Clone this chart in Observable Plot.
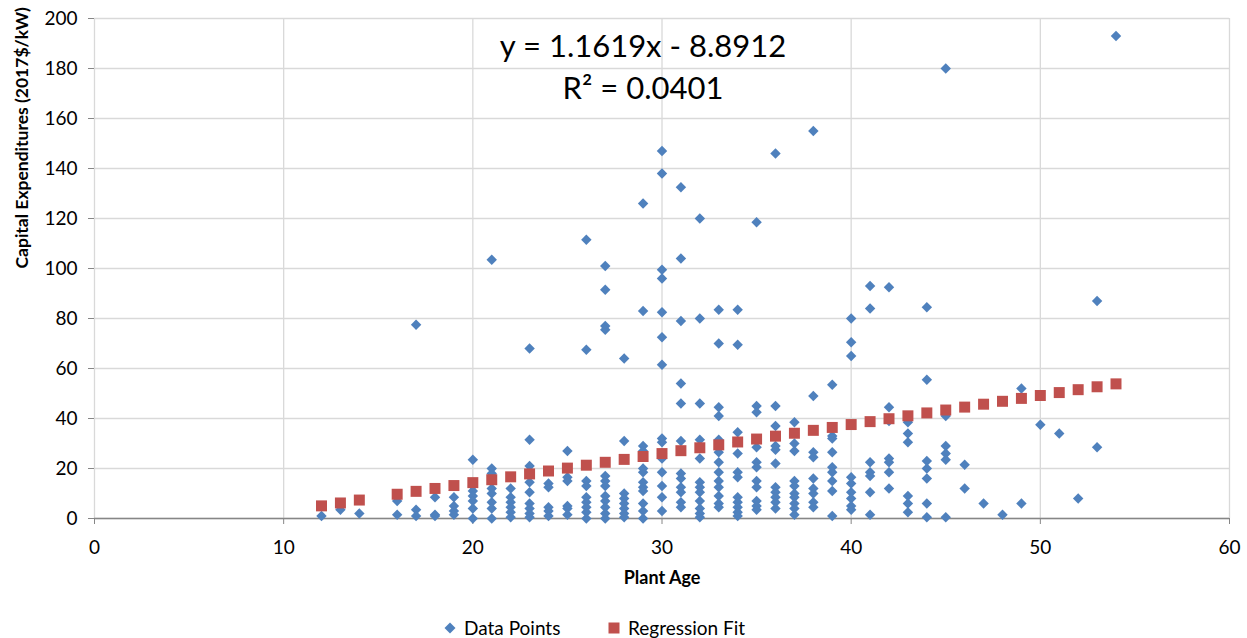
<!DOCTYPE html>
<html>
<head>
<meta charset="utf-8">
<script src="https://cdn.jsdelivr.net/npm/d3@7"></script>
<script src="https://cdn.jsdelivr.net/npm/@observablehq/plot@0.6"></script>
<style>
  html, body { margin: 0; padding: 0; background: #fff; }
  body { width: 1247px; height: 638px; overflow: hidden; font-family: Lato, "Liberation Sans", sans-serif; }
  #legend { position: relative; height: 38px; font-size: 19px; color: #000; }
  .item { position: absolute; top: 16px; display: flex; align-items: center; white-space: nowrap; }
  .sw { display: inline-block; margin-right: 8px; }
</style>
</head>
<body>
<div id="chart"></div>
<div id="legend">
  <div class="item" style="left:444px"><svg class="sw" width="12" height="12"><path d="M6,0.5L11.5,6L6,11.5L0.5,6Z" fill="#4F81BD"/></svg>Data Points</div>
  <div class="item" style="left:608px"><svg class="sw" width="12" height="12"><rect x="0.5" y="0.5" width="11" height="11" fill="#C0504D"/></svg>Regression Fit</div>
</div>
<script>
// Plant ages that have data points
const ages = [12,13,14,16,17,18,19,20,21,22,23,24,25,26,27,28,29,30,31,32,33,34,35,36,37,38,39,40,41,42,43,44,45,46,47,48,49,50,51,52,53,54];
// Capital expenditures (2017$/kW) observed at each age (same order as ages)
const capexByAge = [
  [1],
  [3.5],
  [2],
  [1.5, 7],
  [77.5, 3.5, 1],
  [8.5, 1.5, 1],
  [8.5, 5, 3, 1.5],
  [23.5, 13, 11, 9, 7, 4, 0],
  [103.5, 20, 18, 12, 10, 6.5, 4, 0],
  [12, 8.5, 6.5, 4.5, 2.5, 0.5],
  [68, 31.5, 21, 19, 14.5, 10.5, 6, 4, 2, 0.5],
  [14, 12.5, 4.5, 3, 1],
  [27, 16.5, 15, 5, 4, 1.5],
  [111.5, 67.5, 15, 13, 8.5, 6.5, 4.5, 2.5, 0],
  [101, 91.5, 77, 75.5, 17, 15, 13, 9, 7, 4.5, 2, 0],
  [64, 31, 10, 8, 6, 4, 2, 0.5],
  [126, 83, 29, 27, 20, 18.5, 14.5, 12.5, 11, 6, 3, 0],
  [147, 138, 99.5, 96, 82.5, 72.5, 61.5, 32, 30.5, 26, 24, 18.5, 13, 8.5, 3],
  [132.5, 104, 79, 54, 46, 31, 18, 16, 12.5, 10.5, 6.5, 4.5],
  [120, 80, 46, 31.5, 24, 14.5, 12.5, 10.5, 7, 4, 2, 0.5],
  [83.5, 70, 44.5, 41, 31.5, 26.5, 22.5, 18.5, 15, 12.5, 9, 6, 4.5],
  [83.5, 69.5, 34.5, 30.5, 26, 18.5, 16.5, 8.5, 6.5, 4.5, 2.5, 1],
  [118.5, 45, 42.5, 28.5, 22.5, 20.5, 15, 12.5, 7, 5, 3.5],
  [146, 45, 37, 29, 27.5, 22, 12.5, 10.5, 8.5, 6.5, 4],
  [38.5, 30, 27, 15, 13, 10, 8.5, 6, 4, 1.5],
  [155, 49, 26.5, 24.5, 16, 12, 10, 6.5, 4.5],
  [53.5, 33, 32, 26.5, 20.5, 18.5, 15, 11, 1],
  [80, 70.5, 65, 16.5, 14, 10.5, 8, 5, 3.5],
  [93, 84, 22.5, 18.5, 17, 10.5, 1.5],
  [92.5, 44.5, 39, 24, 22.5, 18.5, 12],
  [38.5, 34, 30.5, 9, 6, 2.5],
  [84.5, 55.5, 23, 20, 16, 6, 0.5],
  [180, 41, 29, 26, 23.5, 0.5],
  [21.5, 12],
  [6],
  [1.5],
  [52, 6],
  [37.5],
  [34],
  [8],
  [87, 28.5],
  [193]
];
// Regression fit values (y = 1.1619x - 8.8912) at each age, as drawn
const fitValues = [5.05,6.21,7.38,9.70,10.86,12.02,13.18,14.35,15.51,16.67,17.83,19.00,20.16,21.32,22.48,23.64,24.80,25.97,27.13,28.29,29.45,30.61,31.78,32.94,34.10,35.26,36.42,37.58,38.75,39.91,41.07,42.23,43.39,44.56,45.72,46.88,48.04,49.20,50.37,51.53,52.69,53.85];
const xTicks = [0,10,20,30,40,50,60];
const yTicks = [0,20,40,60,80,100,120,140,160,180,200];
const equationText = "y = 1.1619x - 8.8912";
const r2Text = "R² = 0.0401";
const xTitle = "Plant Age";
const yTitle = "Capital Expenditures (2017$/kW)";

const points = ages.flatMap((a, i) => capexByAge[i].map(v => ({age: a, capex: v})));
const fit = ages.map((a, i) => ({age: a, capex: fitValues[i]}));

const chart = Plot.plot({
  width: 1247,
  height: 600,
  marginLeft: 94,
  marginRight: 18,
  marginTop: 18,
  marginBottom: 82,
  style: {fontFamily: "Lato, 'Liberation Sans', sans-serif", fontSize: "19px", color: "#000", background: "#fff"},
  x: {domain: [0, 60]},
  y: {domain: [0, 200]},
  marks: [
    Plot.gridX(xTicks, {stroke: "#d9d9d9", strokeOpacity: 1, strokeWidth: 1.3}),
    Plot.gridY(yTicks, {stroke: "#d9d9d9", strokeOpacity: 1, strokeWidth: 1.3}),
    Plot.ruleY([0], {stroke: "#868686", strokeWidth: 1.3}),
    Plot.axisX(xTicks, {tickSize: 6, tickPadding: 16, stroke: "#868686", fontSize: 19, label: null}),
    Plot.axisY(yTicks, {tickSize: 6, tickPadding: 11, stroke: "#868686", fontSize: 19, label: null}),
    Plot.text([xTitle], {frameAnchor: "bottom", dy: 65, text: d => d, fontWeight: "bold", fontSize: 18}),
    Plot.text([yTitle], {frameAnchor: "left", dx: -72, rotate: -90, text: d => d, fontWeight: "bold", fontSize: 17.5}),
    Plot.dot(points, {x: "age", y: "capex", symbol: "diamond2", r: 4.7, fill: "#4F81BD", stroke: "none"}),
    Plot.dot(fit, {x: "age", y: "capex", symbol: "square", r: 6.2, fill: "#C0504D", stroke: "none"}),
    Plot.text([equationText], {frameAnchor: "top", dx: -19, dy: 16, text: d => d, fontSize: 31}),
    Plot.text([r2Text], {frameAnchor: "top", dx: -19, dy: 58, text: d => d, fontSize: 31})
  ]
});
document.getElementById("chart").appendChild(chart);
</script>
</body>
</html>
